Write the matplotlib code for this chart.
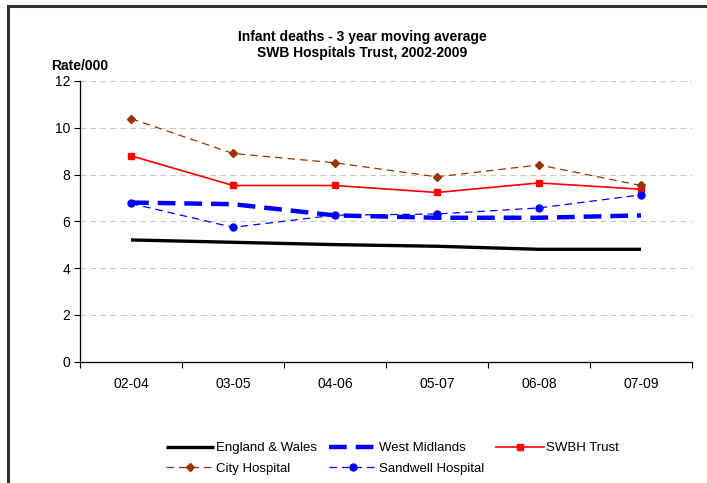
import matplotlib
matplotlib.use("Agg")
import matplotlib.pyplot as plt
from matplotlib.patches import Rectangle
import numpy as np

plt.rcParams['font.family'] = ['Liberation Sans', 'DejaVu Sans']

periods = ["02-04", "03-05", "04-06", "05-07", "06-08", "07-09"]
england_wales = [5.2, 5.1, 5.0, 4.93, 4.8, 4.8]
west_midlands = [6.8, 6.73, 6.25, 6.15, 6.15, 6.25]
swbh_trust = [8.8, 7.53, 7.53, 7.23, 7.64, 7.37]
city_hospital = [10.39, 8.9, 8.5, 7.9, 8.41, 7.53]
sandwell_hospital = [6.76, 5.74, 6.26, 6.31, 6.57, 7.13]

W, H = 707, 483
fig = plt.figure(figsize=(W / 100, H / 100), dpi=100)
fig.patch.set_facecolor('white')

# frame around chart area (extends beyond image right/bottom)
fig.add_artist(Rectangle((8 / W, -0.05), 1.1, 1 - 6 / H + 0.05, transform=fig.transFigure,
                         fill=False, edgecolor='#333333', linewidth=2.2))

left, right, top, bottom = 80, 692, 81, 361.5
ax = fig.add_axes([left / W, 1 - bottom / H, (right - left) / W, (bottom - top) / H])

x = np.arange(len(periods))
ax.plot(x, england_wales, color='black', lw=2.4, label='England & Wales', solid_capstyle='butt', zorder=3)
ax.plot(x, west_midlands, color='#0000FF', lw=3.2, dashes=(4, 2), label='West Midlands', zorder=3)
ax.plot(x, swbh_trust, color='#FF0000', lw=1.2, marker='s', ms=5, label='SWBH Trust', zorder=4)
ax.plot(x, city_hospital, color='#993300', lw=0.9, dashes=(6, 4), marker='D', ms=4, label='City Hospital', zorder=4)
ax.plot(x, sandwell_hospital, color='#0000FF', lw=0.9, dashes=(6, 4), marker='o', ms=5, label='Sandwell Hospital', zorder=5)

ax.set_xlim(-0.5, len(periods) - 0.5)
ax.set_ylim(0, 12)
ax.set_yticks(np.arange(0, 13, 2))
ax.set_xticks(x)
ax.set_xticklabels(periods)
ax.set_xticks(np.arange(-0.5, len(periods)), minor=True)
ax.tick_params(axis='x', which='major', length=0, labelsize=10, pad=11)
ax.tick_params(axis='x', which='minor', length=4, direction='out', width=0.8)
ax.tick_params(axis='y', which='major', length=4, direction='out', labelsize=10, width=0.8, pad=3)
for s in ['top', 'right']:
    ax.spines[s].set_visible(False)
for s in ['left', 'bottom']:
    ax.spines[s].set_linewidth(0.9)
ax.yaxis.grid(True, color='#C8C8C8', linestyle=(0, (5, 4)), linewidth=0.8)
ax.set_axisbelow(True)

fig.text(362 / W, 1 - 45 / H, "Infant deaths - 3 year moving average\nSWB Hospitals Trust, 2002-2009",
         ha='center', va='center', fontsize=10, fontweight='bold', linespacing=1.2)
fig.text(51 / W, 1 - 66 / H, "Rate/000", ha='left', va='center', fontsize=10, fontweight='bold')

h, l = ax.get_legend_handles_labels()
order = [0, 3, 1, 4, 2]
fig.legend([h[i] for i in order], [l[i] for i in order], ncol=3, frameon=False,
           loc='upper left', bbox_to_anchor=(166 / W, 1 - 442 / H), fontsize=9.5,
           handlelength=3.6, handletextpad=0.2, columnspacing=0.9, labelspacing=0.65,
           borderpad=0, borderaxespad=0)

fig.savefig("out.png", dpi=100)
